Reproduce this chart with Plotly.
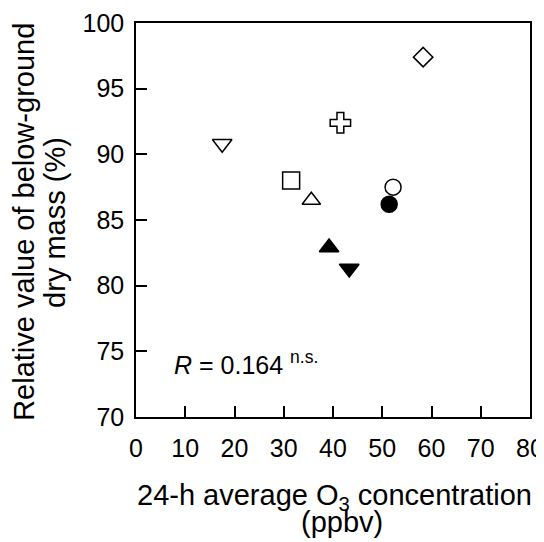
import plotly.graph_objects as go

# data
o3 = [58.3, 41.5, 17.5, 31.5, 52.2, 35.6, 51.4, 39.2, 43.3]
rel_mass = [97.4, 92.4, 90.8, 88.0, 87.5, 86.5, 86.2, 82.9, 81.3]
symbols = ["diamond-open", "cross-open", "triangle-down-open", "square-open",
           "circle-open", "triangle-up-open", "circle", "triangle-up", "triangle-down"]
sizes = [15, 17, 17, 17, 16, 16, 16, 17, 17]

x_ticks = [0, 10, 20, 30, 40, 50, 60, 70, 80]
y_ticks = [70, 75, 80, 85, 90, 95, 100]

FONT = "Liberation Sans, Arial, sans-serif"
TITLE_SIZE = 29
# page body has an 8px default margin; figure is sized to fit the window
PAGE_OFF = 8
PLOT_L, PLOT_T, PLOT_W, PLOT_H = 136, 23, 393.6, 394

fig = go.Figure()
fig.add_trace(go.Scatter(
    x=o3, y=rel_mass, mode="markers",
    marker=dict(symbol=symbols, size=sizes, color="black", opacity=1,
                line=dict(color="black", width=1.5)),
    showlegend=False, hoverinfo="x+y",
))

axis_common = dict(
    showgrid=False, zeroline=False, showline=True, linecolor="black", linewidth=1.5,
    mirror=True, ticks="inside", ticklen=11, tickwidth=1.5, tickcolor="black",
    tickfont=dict(family=FONT, size=25, color="black"), automargin=False,
)
fig.update_xaxes(range=[0, 80], tickvals=x_ticks, ticklabelstandoff=8, **axis_common)
fig.update_yaxes(range=[70, 100], tickvals=y_ticks, ticklabelstandoff=5, **axis_common)

title_font = dict(family=FONT, size=TITLE_SIZE, color="black")
fig.add_annotation(
    xref="paper", yref="paper", x=0.505, y=-0.203, xanchor="center", yanchor="middle",
    text="24-h average O<sub>3</sub> concentration", showarrow=False, font=title_font,
)
fig.add_annotation(
    xref="paper", yref="paper", x=0.523, y=-0.2665, xanchor="center", yanchor="middle",
    text="(ppbv)", showarrow=False, font=title_font,
)
fig.add_annotation(
    xref="paper", yref="paper", x=(24 - PLOT_L) / PLOT_W, y=0.495, xanchor="center", yanchor="middle",
    text="Relative value of below-ground", showarrow=False, textangle=-90, font=title_font,
)
fig.add_annotation(
    xref="paper", yref="paper", x=(55 - PLOT_L) / PLOT_W, y=0.495, xanchor="center", yanchor="middle",
    text="dry mass (%)", showarrow=False, textangle=-90, font=title_font,
)
fig.add_annotation(
    xref="x", yref="y", x=7.3, y=74.1, xanchor="left", yanchor="middle",
    text="<i>R</i> = 0.164 <sup>n.s.</sup>", showarrow=False,
    font=dict(family=FONT, size=25, color="black"),
)

W, H = 544 - PAGE_OFF, 542 - PAGE_OFF
fig.update_layout(
    width=W, height=H,
    margin=dict(l=PLOT_L - PAGE_OFF, t=PLOT_T - PAGE_OFF,
                r=W - (PLOT_L - PAGE_OFF) - PLOT_W, b=H - (PLOT_T - PAGE_OFF) - PLOT_H),
    paper_bgcolor="white", plot_bgcolor="white",
    font=dict(family=FONT, color="black"),
)

fig.write_html("out.html")
